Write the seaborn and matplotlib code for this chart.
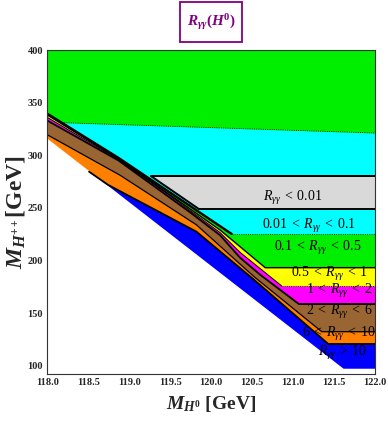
import numpy as np
import matplotlib
matplotlib.use('Agg')
import matplotlib.pyplot as plt
import seaborn as sns
from matplotlib.patches import Rectangle
from matplotlib.ticker import MultipleLocator, FormatStrFormatter

# ── region boundaries (upper edge of each band) ──
cyan_top_x = [118.18, 122.0]
cyan_top_y = [331.0, 321.2]

gray_x = [119.27, 119.85, 122.0]
gray_top = [280.0, 280.0, 280.0]
gray_bot = [280.0, 249.0, 249.0]

green_x = [118.0, 118.87, 120.25, 122.0]
green_y = [339.5, 297.5, 225.3, 225.3]

yellow_x = [118.0, 118.87, 120.11, 120.66, 122.0]
yellow_y = [338.3, 296.5, 229.0, 193.3, 193.3]

magenta_x = [118.0, 118.87, 119.5, 120.11, 120.35, 120.86, 122.0]
magenta_y = [336.0, 296.0, 261.5, 226.5, 208.0, 176.0, 176.0]

brown_x = [118.0, 118.87, 119.74, 120.11, 120.35, 120.6, 121.07, 122.0]
brown_y = [333.0, 295.0, 246.0, 224.0, 203.0, 186.5, 158.8, 158.8]

orange_x = [118.0, 118.89, 119.82, 120.52, 121.35, 122.0]
orange_y = [319.5, 281.0, 234.0, 185.0, 132.5, 132.5]

blue_x = [118.51, 118.74, 119.82, 120.52, 121.43, 122.0]
blue_y = [284.4, 272.0, 227.5, 182.0, 120.8, 120.8]

# lower-left edge of the allowed region (white below)
edge_x = [118.0, 121.61, 122.0]
edge_y = [316.0, 97.8, 97.8]

region_labels = [r'$R_{\gamma\gamma}\;<\;0.01$',
                 r'$0.01\;<\;R_{\gamma\gamma}\;<\;0.1$',
                 r'$0.1\;<\;R_{\gamma\gamma}\;<\;0.5$',
                 r'$0.5\;<\;R_{\gamma\gamma}\;<\;1$',
                 r'$1\;<\;R_{\gamma\gamma}\;<\;2$',
                 r'$2\;<\;R_{\gamma\gamma}\;<\;6$',
                 r'$6\;<\;R_{\gamma\gamma}\;<\;10$',
                 r'$R_{\gamma\gamma}\;>\;10$']

# where the labels sit (data coords)
label_pos = [(120.99, 259.0), (121.2, 233.0), (121.3, 212.0), (121.44, 187.5),
             (121.56, 171.5), (121.56, 151.0), (121.56, 130.5), (121.6, 112.0)]

COL = {'green': '#00ee00', 'cyan': '#00ffff', 'gray': '#d9d9d9',
       'yellow': '#ffff00', 'magenta': '#ff00ff', 'brown': '#996633',
       'orange': '#ff8000', 'blue': '#0000ff'}
PURPLE = '#800080'

sns.set_theme(style='ticks')
plt.rcParams['font.family'] = 'serif'
plt.rcParams['font.serif'] = ['Liberation Serif', 'DejaVu Serif']
plt.rcParams['mathtext.fontset'] = 'custom'
plt.rcParams['mathtext.rm'] = 'Liberation Serif'
plt.rcParams['mathtext.it'] = 'Liberation Serif:italic'
plt.rcParams['mathtext.bf'] = 'Liberation Serif:bold'
plt.rcParams['mathtext.bfit'] = 'Liberation Serif:italic:bold'

YMIN, YMAX = 92.3, 400.0

fig = plt.figure(figsize=(3.88, 4.22), dpi=100)
ax = fig.add_axes([0.122, 0.1137, 0.8445, 0.7678])
ax.set_facecolor('white')

# ── painter's order: top bands first, lower bands on top ──
ax.fill_between([118.0, 122.0], [YMAX, YMAX], YMIN, color=COL['green'], lw=0)
ax.fill_between(cyan_top_x, cyan_top_y, YMIN, color=COL['cyan'], lw=0)
ax.fill_between(gray_x, gray_top, gray_bot, color=COL['gray'], lw=0)
ax.fill_between(green_x, green_y, YMIN, color=COL['green'], lw=0)
ax.fill_between(yellow_x, yellow_y, YMIN, color=COL['yellow'], lw=0)
ax.fill_between(magenta_x, magenta_y, YMIN, color=COL['magenta'], lw=0)
ax.fill_between(brown_x, brown_y, YMIN, color=COL['brown'], lw=0)
ax.fill_between(orange_x, orange_y, YMIN, color=COL['orange'], lw=0)
ax.fill_between(blue_x, blue_y, YMIN, color=COL['blue'], lw=0)
ax.fill_between(edge_x, edge_y, YMIN, color='white', lw=0)

# ── boundary lines ──
sns.lineplot(x=cyan_top_x, y=cyan_top_y, ax=ax, color='black', lw=0.6, ls=':')
sns.lineplot(x=gray_x, y=gray_top, ax=ax, color='black', lw=1.4)
sns.lineplot(x=gray_x, y=gray_bot, ax=ax, color='black', lw=1.4)
sns.lineplot(x=green_x[:3], y=green_y[:3], ax=ax, color='black', lw=1.7)
sns.lineplot(x=green_x[2:], y=green_y[2:], ax=ax, color='black', lw=0.6, ls=':')
sns.lineplot(x=yellow_x, y=yellow_y, ax=ax, color='black', lw=1.0)
sns.lineplot(x=magenta_x[:-1], y=magenta_y[:-1], ax=ax, color='black', lw=0.7)
sns.lineplot(x=magenta_x[-2:], y=magenta_y[-2:], ax=ax, color='black', lw=0.6, ls=':')
sns.lineplot(x=brown_x, y=brown_y, ax=ax, color='black', lw=1.3)
sns.lineplot(x=orange_x, y=orange_y, ax=ax, color='black', lw=0.9)
sns.lineplot(x=blue_x, y=blue_y, ax=ax, color='black', lw=1.3)

for txt, (lx, ly) in zip(region_labels, label_pos):
    ax.text(lx, ly, txt, ha='center', va='center', fontsize=10, color='black')

ax.set_xlim(118.0, 122.0)
ax.set_ylim(YMIN, YMAX)
ax.xaxis.set_major_locator(MultipleLocator(0.5))
ax.xaxis.set_minor_locator(MultipleLocator(0.1))
ax.yaxis.set_major_locator(MultipleLocator(50))
ax.yaxis.set_minor_locator(MultipleLocator(10))
ax.xaxis.set_major_formatter(FormatStrFormatter('%.1f'))
ax.tick_params(which='both', direction='in', top=True, right=True,
               width=0.6, color='#555555', labelsize=7.5, pad=3)
ax.tick_params(which='major', length=4)
ax.tick_params(which='minor', length=2.2)
for lab in ax.get_xticklabels() + ax.get_yticklabels():
    lab.set_fontweight('bold')
for sp in ax.spines.values():
    sp.set_linewidth(0.8)
    sp.set_color('#333333')

ax.set_xlabel(r'$\mathbfit{M}_{\mathbfit{H}^{\mathbf{0}}}$ [GeV]',
              fontsize=14, fontweight='bold', labelpad=5)
ax.set_ylabel(r'$\mathbfit{M}_{\mathbfit{H}^{\mathbf{++}}}$[GeV]',
              fontsize=17, fontweight='bold')
ax.yaxis.set_label_coords(-0.062, 0.5)

# title in a purple frame
fig.patches.append(Rectangle((180 / 388, 1 - 42 / 422), 62 / 388, 40 / 422,
                             transform=fig.transFigure, fill=False,
                             ec=PURPLE, lw=1.3))
fig.text(211 / 388, 1 - 22 / 422,
         r'$\mathbfit{R}_{\mathbfit{\gamma\gamma}}\mathbf{(}\mathbfit{H}^{\mathbf{0}}\mathbf{)}$',
         ha='center', va='center', fontsize=11, color=PURPLE)

fig.savefig('out.png', dpi=100)
